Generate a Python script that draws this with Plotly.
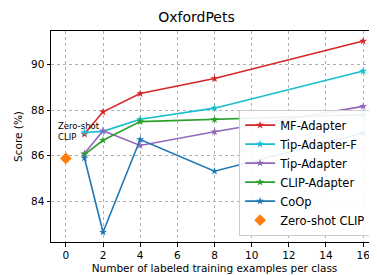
import plotly.graph_objects as go

shots = [1, 2, 4, 8, 16]
mf_adapter = [86.95, 87.93, 88.73, 89.39, 91.04]
tip_adapter_f = [87.02, 87.07, 87.6, 88.09, 89.72]
tip_adapter = [86.1, 87.1, 86.45, 87.05, 88.17]
clip_adapter = [86.05, 86.68, 87.5, 87.59, 87.8]
coop = [85.9, 82.64, 86.71, 85.32, 87.0]
zs_x = [0]
zs_y = [85.88]

series = [
    ("MF-Adapter", mf_adapter, "#d62728"),
    ("Tip-Adapter-F", tip_adapter_f, "#17becf"),
    ("Tip-Adapter", tip_adapter, "#9467bd"),
    ("CLIP-Adapter", clip_adapter, "#2ca02c"),
    ("CoOp", coop, "#1f77b4"),
]

fig = go.Figure()
for name, ys, col in series:
    fig.add_trace(go.Scatter(x=shots, y=ys, name=name, mode="lines+markers",
                             line=dict(color=col, width=1.6),
                             marker=dict(symbol="star", size=6, color=col)))
fig.add_trace(go.Scatter(x=zs_x, y=zs_y, name="Zero-shot CLIP", mode="markers",
                         marker=dict(symbol="diamond", size=9, color="#ff7f0e")))

fig.add_annotation(x=-0.55, y=86.5, xref="x", yref="y", text="Zero-shot<br>CLIP",
                   showarrow=False, xanchor="left", yanchor="bottom",
                   font=dict(size=8.5, color="black", family="DejaVu Sans"), align="left")

axis_common = dict(showline=True, linecolor="black", linewidth=1, mirror=True,
                   ticks="outside", ticklen=3.5, tickcolor="black",
                   showgrid=True, gridcolor="#b0b0b0", griddash="dot", gridwidth=1,
                   zeroline=False, automargin=False,
                   tickfont=dict(size=10.5, color="black"))

fig.update_layout(
    width=377, height=275,
    margin=dict(l=43, r=7, t=23, b=41),
    paper_bgcolor="white", plot_bgcolor="white",
    font=dict(family="DejaVu Sans", color="black"),
    title=dict(text="OxfordPets", x=0.5, xanchor="center", y=0.985, yanchor="top",
               font=dict(size=14)),
    xaxis=dict(range=[-0.8, 16.8], tickvals=list(range(0, 17, 2)),
               title=dict(text="Number of labeled training examples per class", font=dict(size=10.5), standoff=4),
               **axis_common),
    yaxis=dict(range=[82.21, 91.48], tickvals=[84, 86, 88, 90],
               title=dict(text="Score (%)", font=dict(size=10.5), standoff=6),
               **axis_common),
    legend=dict(x=0.979, y=0.03, xanchor="right", yanchor="bottom",
                bgcolor="rgba(255,255,255,0.9)", bordercolor="#cccccc", borderwidth=1,
                font=dict(size=11.5), tracegroupgap=0, itemwidth=30),
    showlegend=True,
)

fig.write_html("out.html")
